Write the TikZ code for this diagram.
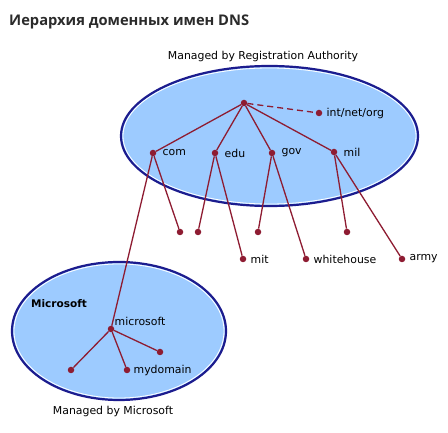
\documentclass[tikz,border=0pt]{standalone}
\usepackage{fontspec}
\setmainfont{DejaVu Sans}
\newfontfamily\titlefont{Open Sans}
\definecolor{zoneblue}{HTML}{9DCBFF}
\definecolor{zoneedge}{HTML}{1C1C8E}
\definecolor{linkred}{HTML}{8E1C32}
\definecolor{titlegray}{HTML}{2B2B2B}
\begin{document}
\begin{tikzpicture}[x=1pt,y=-1pt,
    zone/.style={draw=zoneedge,line width=2.2pt,fill=zoneblue},
    shine/.style={draw=white,line width=0.8pt},
    dot/.style={circle,fill=linkred,inner sep=0pt,minimum size=6.5pt},
    link/.style={draw=linkred,line width=1.3pt},
    lbl/.style={font=\fontsize{10.9}{13}\selectfont,inner sep=1pt},
    caption/.style={font=\fontsize{10.9}{13}\selectfont,inner sep=0pt}]
    \useasboundingbox[fill=white] (0,0) rectangle (448,433);
    \node[anchor=west,inner sep=0pt,text=titlegray,font=\titlefont\bfseries\fontsize{14.7}{17}\selectfont] (title) at (9,22) {Иерархия доменных имен DNS};
    % zones
    \draw[zone] (269.5,136) ellipse (148.5 and 70);
    \draw[shine] (269.5,136) ellipse (146.5 and 68);
    \draw[zone] (119,331) ellipse (107 and 69);
    \draw[shine] (119,331) ellipse (105 and 67);
    \node[caption] (regcap) at (263,56) {Managed by Registration Authority};
    \node[caption] (mscap) at (113,411) {Managed by Microsoft};
    \node[caption,font=\bfseries\fontsize{10.5}{12}\selectfont,anchor=west] (mszone) at (31,304) {Microsoft};
    % top level
    \node[dot] (root) at (244,103) {};
    \node[dot,label={[lbl,label distance=3pt]right:int/net/org}] (int) at (319,113) {};
    \node[dot,label={[lbl,label distance=5pt]right:com}] (com) at (153,153) {};
    \node[dot,label={[lbl,label distance=5pt]right:edu}] (edu) at (215,153) {};
    \node[dot,label={[lbl,label distance=5pt]right:gov}] (gov) at (272,153) {};
    \node[dot,label={[lbl,label distance=5pt]right:mil}] (mil) at (334,152) {};
    % second level
    \node[dot] (comsub) at (180,232) {};
    \node[dot] (edusub) at (198,232) {};
    \node[dot] (govsub) at (258,232) {};
    \node[dot] (milsub) at (347,232) {};
    \node[dot,label={[lbl,label distance=3pt]right:mit}] (mit) at (243,259) {};
    \node[dot,label={[lbl,label distance=3pt]right:whitehouse}] (wh) at (306,259) {};
    \node[dot,label={[lbl,label distance=3pt]right:army}] (army) at (402,259) {};
    \node[dot,label={[lbl,label distance=0pt]above right:microsoft}] (ms) at (111,329) {};
    % microsoft zone
    \node[dot] (msleft) at (71,370) {};
    \node[dot,label={[lbl,label distance=2pt]right:mydomain}] (mydom) at (127,370) {};
    \node[dot] (msright) at (160,352) {};
    % links
    \draw[link,dash pattern=on 6pt off 4pt] (root) -- (int);
    \foreach \n in {com,edu,gov,mil}
        \draw[link] (root) -- (\n);
    \draw[link] (com) -- (comsub);
    \draw[link] (com) -- (ms);
    \draw[link] (edu) -- (edusub);
    \draw[link] (edu) -- (mit);
    \draw[link] (gov) -- (govsub);
    \draw[link] (gov) -- (wh);
    \draw[link] (mil) -- (milsub);
    \draw[link] (mil) -- (army);
    \foreach \n in {msleft,mydom,msright}
        \draw[link] (ms) -- (\n);
\end{tikzpicture}
\end{document}
